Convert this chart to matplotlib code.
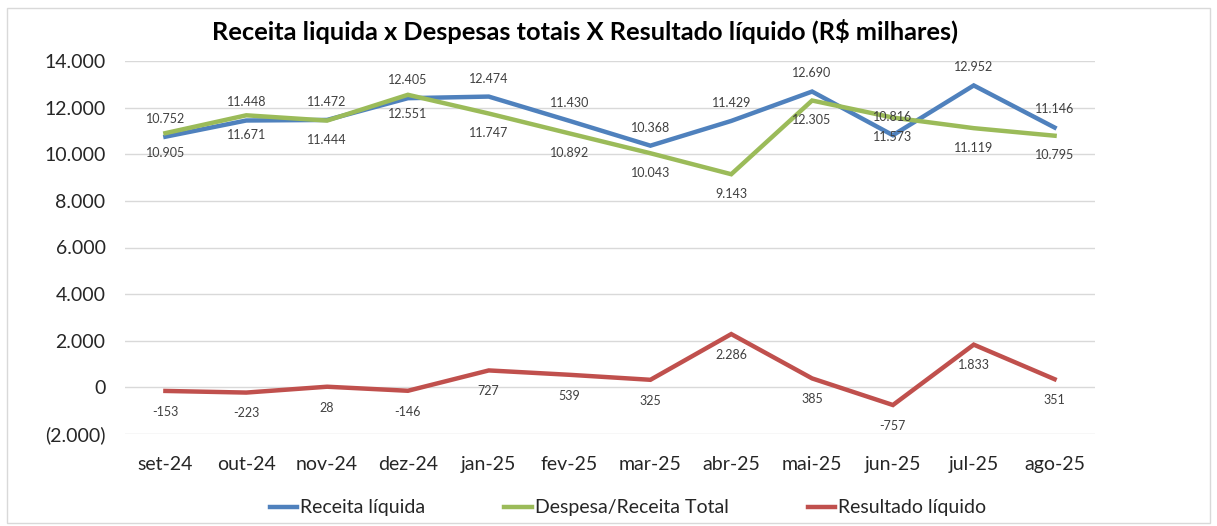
import matplotlib
matplotlib.use("Agg")
import matplotlib.pyplot as plt
from matplotlib.ticker import FuncFormatter, FixedLocator
from matplotlib.patches import Rectangle

months = ["set-24", "out-24", "nov-24", "dez-24", "jan-25", "fev-25",
          "mar-25", "abr-25", "mai-25", "jun-25", "jul-25", "ago-25"]
receita = [10752, 11448, 11472, 12405, 12474, 11430, 10368, 11429, 12690, 10816, 12952, 11146]
despesa = [10905, 11671, 11444, 12551, 11747, 10892, 10043, 9143, 12305, 11573, 11119, 10795]
resultado = [-153, -223, 28, -146, 727, 539, 325, 2286, 385, -757, 1833, 351]

title = "Receita liquida x Despesas totais X Resultado líquido (R$ milhares)"
names = ["Receita líquida", "Despesa/Receita Total", "Resultado líquido"]
colors = ["#4F81BD", "#9BBB59", "#C0504D"]

plt.rcParams['font.family'] = ['Lato', 'DejaVu Sans']

fig = plt.figure(figsize=(12.17, 5.26), dpi=100)
fig.patches.append(Rectangle((7/1217, 3/526), 1203/1217, 515/526, transform=fig.transFigure,
                             fill=False, edgecolor="#D9D9D9", lw=1.0))
ax = fig.add_axes([125/1217, 1 - 434/526, 970/1217, 373/526])

x = list(range(len(months)))
for vals, c, n in zip([receita, despesa, resultado], colors, names):
    ax.plot(x, vals, color=c, lw=3.2, label=n, solid_joinstyle="miter", zorder=3)

def fmt(v):
    s = f"{abs(v):,}".replace(",", ".")
    return ("-" + s) if v < 0 else s

lab_kw = dict(fontsize=9, color="#404040", ha="center", va="center", textcoords="offset points", zorder=4)
for i in x:
    ax.annotate(fmt(receita[i]), (i, receita[i]), xytext=(0, 13), **lab_kw)
    ax.annotate(fmt(despesa[i]), (i, despesa[i]), xytext=(0, -14), **lab_kw)
    ax.annotate(fmt(resultado[i]), (i, resultado[i]), xytext=(0, -15), **lab_kw)

ax.set_xlim(-0.5, len(months) - 0.5)
ax.set_ylim(-2000, 14000)
ax.yaxis.set_major_locator(FixedLocator(range(-2000, 14001, 2000)))

def yfmt(v, pos):
    v = int(round(v))
    s = f"{abs(v):,}".replace(",", ".")
    return f"({s})" if v < 0 else s

ax.yaxis.set_major_formatter(FuncFormatter(yfmt))
ax.set_xticks(x)
ax.set_xticklabels(months)
ax.tick_params(axis="y", length=0, pad=14, labelsize=14, labelcolor="#262626")
ax.tick_params(axis="x", length=0, pad=16, labelsize=14, labelcolor="#262626")
ax.grid(axis="y", color="#D9D9D9", lw=1)
ax.set_axisbelow(True)
for s in ax.spines.values():
    s.set_visible(False)

fig.text(585/1217, 1 - 32/526, title, ha="center", va="center", fontsize=18.3, fontweight="bold", color="black")

fig.legend(loc="center", bbox_to_anchor=(628/1217, 1 - 508/526), ncol=3, frameon=False,
           fontsize=14, handlelength=1.4, handletextpad=0.15, columnspacing=4.1,
           labelcolor="#262626")

fig.savefig("out.png", dpi=100)
